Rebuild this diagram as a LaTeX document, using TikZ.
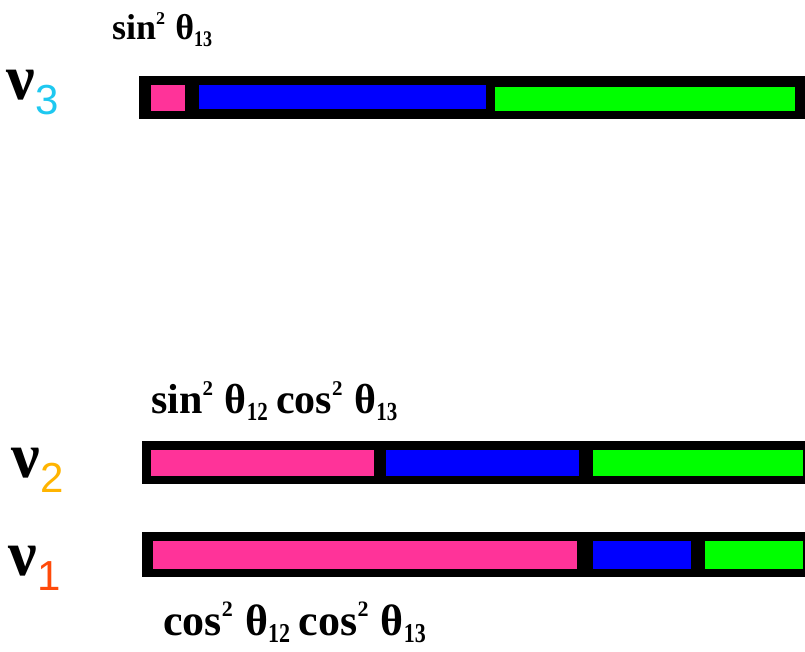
\documentclass[tikz,border=0pt]{standalone}
\usepackage{fontspec}
\setmainfont{Liberation Serif}
\newfontfamily\digitfont{Liberation Sans}
\definecolor{segpink}{HTML}{FF3399}
\definecolor{segblue}{HTML}{0000FF}
\definecolor{seggreen}{HTML}{00FF00}
\definecolor{nucyan}{HTML}{1EC8F0}
\definecolor{nuyellow}{HTML}{FFB400}
\definecolor{nured}{HTML}{FF4A0A}
\newcommand{\mixterm}[2]{#1\raisebox{0.42em}{\scalebox{0.5}{2}}\hspace{0.28em}θ\raisebox{-0.18em}{\scalebox{0.5}[0.62]{#2}}}
\newcommand{\nusub}[2]{ν\kern1pt\raisebox{-15pt}{\digitfont\mdseries\fontsize{42}{42}\selectfont\color{#1}#2}}
\tikzset{
  frame/.style={fill=black},
  pinkseg/.style={fill=segpink},
  blueseg/.style={fill=segblue},
  greenseg/.style={fill=seggreen},
  nulabel/.style={anchor=base west, inner sep=0pt, font=\bfseries\fontsize{64}{64}\selectfont},
  mixlabel/.style={anchor=base west, inner sep=0pt, font=\bfseries\fontsize{#1}{#1}\selectfont},
}
\begin{document}
\begin{tikzpicture}[x=1pt,y=-1pt]
\useasboundingbox (0,0) rectangle (805,652);
% nu_3 row
\fill[frame] (139,76) rectangle (805,119);
\fill[pinkseg] (151,85) rectangle (185,111);
\fill[blueseg] (199,85) rectangle (486,109);
\fill[greenseg] (495,87) rectangle (795,111);
% nu_2 row
\fill[frame] (142,441) rectangle (805,484);
\fill[pinkseg] (151,450) rectangle (374,476);
\fill[blueseg] (386,450) rectangle (579,476);
\fill[greenseg] (593,450) rectangle (803,476);
% nu_1 row
\fill[frame] (142,532) rectangle (805,577);
\fill[pinkseg] (153,541) rectangle (577,569);
\fill[blueseg] (593,541) rectangle (691,569);
\fill[greenseg] (705,541) rectangle (803,569);
% labels
\node[nulabel] (nu3) at (6,100) {\nusub{nucyan}{3}};
\node[nulabel] (nu2) at (11,477) {\nusub{nuyellow}{2}};
\node[nulabel] (nu1) at (8,575) {\nusub{nured}{1}};
\node[mixlabel=36] (mix3) at (112,40) {\mixterm{sin}{13}};
\node[mixlabel=42] (mix2) at (151,413) {\mixterm{sin}{12}\hspace{0.2em}\mixterm{cos}{13}};
\node[mixlabel=44] (mix1) at (163,635) {\mixterm{cos}{12}\hspace{0.2em}\mixterm{cos}{13}};
\end{tikzpicture}
\end{document}
